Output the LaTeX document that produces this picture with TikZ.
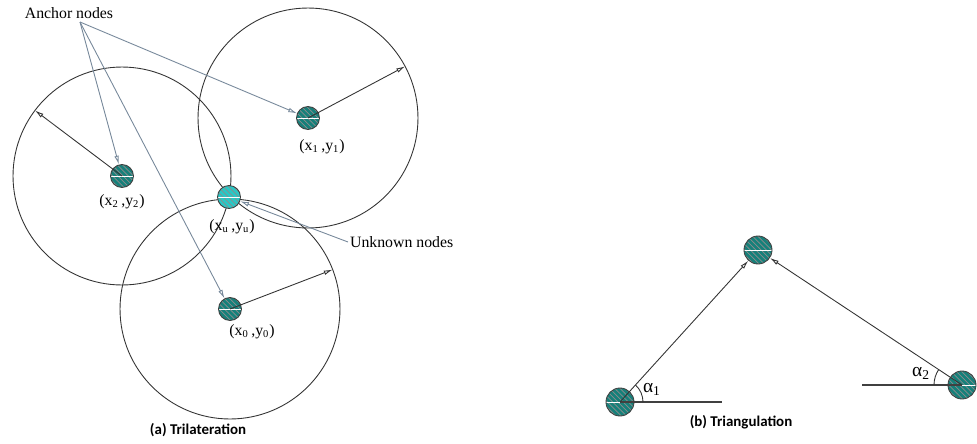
\documentclass[tikz,border=0pt]{standalone}
\usepackage{fontspec}
\setmainfont{Liberation Serif}
\newfontfamily\capfont{Carlito}
\usepackage{tikz}
\usetikzlibrary{arrows.meta, patterns, angles, positioning}
\definecolor{anchorteal}{RGB}{22,128,122}
\definecolor{unkcyan}{RGB}{40,200,198}
\definecolor{pointgray}{RGB}{118,136,154}

\begin{document}
\begin{tikzpicture}[x=0.02cm, y=-0.02cm,
    ring/.style={draw=black!80, line width=0.5pt},
    beacon/.style={circle, draw=black!75, line width=0.5pt, minimum size=0.46cm,
                   inner sep=0pt, preaction={fill=#1}, pattern=north west lines,
                   pattern color=black!45,
                   path picture={\draw[white, line width=0.4pt]
                     (path picture bounding box.west) -- (path picture bounding box.east);}},
    beacon/.default=anchorteal,
    reach/.style={-{Latex[open, length=5pt, width=2.6pt]}, black!80, line width=0.5pt},
    pointer/.style={-{Latex[open, length=5pt, width=2.6pt]}, pointgray, line width=0.5pt},
    ground/.style={black!75, line width=0.6pt},
    lbl/.style={font=\fontsize{9}{10}\selectfont, inner sep=1pt},
    greek/.style={font=\fontsize{11}{12}\selectfont, inner sep=0pt},
    figcap/.style={font=\capfont\bfseries\fontsize{8.5}{10}\selectfont}]
  \useasboundingbox (0,0) rectangle (977,443);

  % (a) trilateration
  \node[beacon] (a1) at (308,118) {};
  \node[beacon] (a2) at (122,176) {};
  \node[beacon] (a0) at (230,309) {};
  \draw[ring] (a1.center) circle[radius=2.2cm];
  \draw[ring] (a2.center) circle[radius=2.18cm];
  \draw[ring] (a0.center) circle[radius=2.2cm];
  \node[beacon=unkcyan] (u) at (229,197) {};

  \path (a1.center) ++(28:2.2cm) coordinate (e1);
  \path (a2.center) ++(143:2.18cm) coordinate (e2);
  \path (a0.center) ++(21:2.2cm) coordinate (e0);
  \draw[reach] (a1.center) -- (e1);
  \draw[reach] (a2.center) -- (e2);
  \draw[reach] (a0.center) -- (e0);

  \node[lbl] (l1) at (322,147) {(x\textsubscript{1}\,,y\textsubscript{1})};
  \node[lbl] (l2) at (122,202) {(x\textsubscript{2}\,,y\textsubscript{2})};
  \node[lbl] (lu) at (232,227) {(x\textsubscript{u}\,,y\textsubscript{u})};
  \node[lbl] (l0) at (252,332) {(x\textsubscript{0}\,,y\textsubscript{0})};

  \node[lbl] (anchors) at (69,13) {Anchor nodes};
  \coordinate (fan) at (80,22);
  \draw[pointer] (fan) -- (a2);
  \draw[pointer] (fan) -- (a1);
  \draw[pointer] (fan) -- (a0);

  \node[lbl, anchor=west] (unknowns) at (348,242) {Unknown nodes};
  \draw[pointer] (unknowns.west) -- (u);

  \node[figcap] (capa) at (198,430) {(a) Trilateration};

  % (b) triangulation
  \node[beacon, minimum size=0.56cm] (t0) at (758,250) {};
  \node[beacon, minimum size=0.56cm] (t1) at (620,402) {};
  \node[beacon, minimum size=0.56cm] (t2) at (962,385) {};
  \coordinate (b1) at (722,402);
  \coordinate (b2) at (862,385);
  \draw[ground] (t1.center) -- (b1);
  \draw[ground] (b2) -- (t2.center);
  \draw[reach] (t1.center) -- (t0);
  \draw[reach] (t2.center) -- (t0);
  \pic[draw, black!80, line width=0.5pt, angle radius=0.46cm] {angle = b1--t1--t0};
  \pic[draw, black!80, line width=0.5pt, angle radius=0.56cm] {angle = t0--t2--b2};
  \node[greek] (al1) at (652,389) {α\textsubscript{1}};
  \node[greek] (al2) at (921,373) {α\textsubscript{2}};

  \node[figcap] (capb) at (741,422) {(b) Triangulation};
\end{tikzpicture}
\end{document}
